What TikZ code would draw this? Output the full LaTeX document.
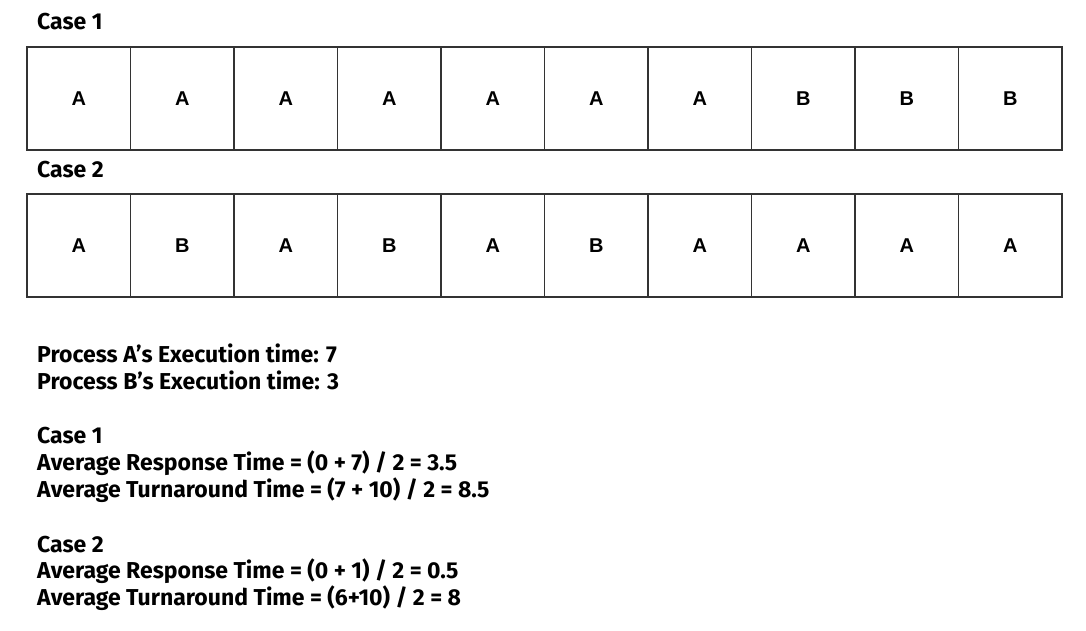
\documentclass[tikz,border=0pt]{standalone}
\usepackage{fontspec}
\setmainfont{Fira Sans}
\newfontfamily\cellfont{Liberation Sans}
\begin{document}
\begin{tikzpicture}[x=1pt,y=-1pt,
  cell/.style={draw=black!80,line width=1.2pt,minimum width=103.5pt,minimum height=103pt,inner sep=0pt,outer sep=0pt,anchor=north west,font=\cellfont\fontsize{20}{22}\selectfont\bfseries},
  txt/.style={anchor=base west,inner sep=0pt,font=\fontsize{23}{26}\selectfont\bfseries}]
\useasboundingbox (0,0) rectangle (1086,630);
\node[txt] (c1) at (37,29) {Case 1};
\foreach \l [count=\i from 0] in {A,A,A,A,A,A,A,B,B,B}
  \node[cell] (r1c\i) at (27+103.5*\i,47) {\l};
\node[txt] (c2) at (37,177) {Case 2};
\foreach \l [count=\i from 0] in {A,B,A,B,A,B,A,A,A,A}
  \node[cell] (r2c\i) at (27+103.5*\i,194) {\l};
\node[txt] (t1) at (37,362) {Process A’s Execution time: 7};
\node[txt] (t2) at (37,389) {Process B’s Execution time: 3};
\node[txt] (t3) at (37,443) {Case 1};
\node[txt] (t4) at (37,470) {Average Response Time = (0 + 7) / 2 = 3.5};
\node[txt] (t5) at (37,497) {Average Turnaround Time = (7 + 10) / 2 = 8.5};
\node[txt] (t6) at (37,552) {Case 2};
\node[txt] (t7) at (37,578) {Average Response Time = (0 + 1) / 2 = 0.5};
\node[txt] (t8) at (37,605) {Average Turnaround Time = (6+10) / 2 = 8};
\end{tikzpicture}
\end{document}
